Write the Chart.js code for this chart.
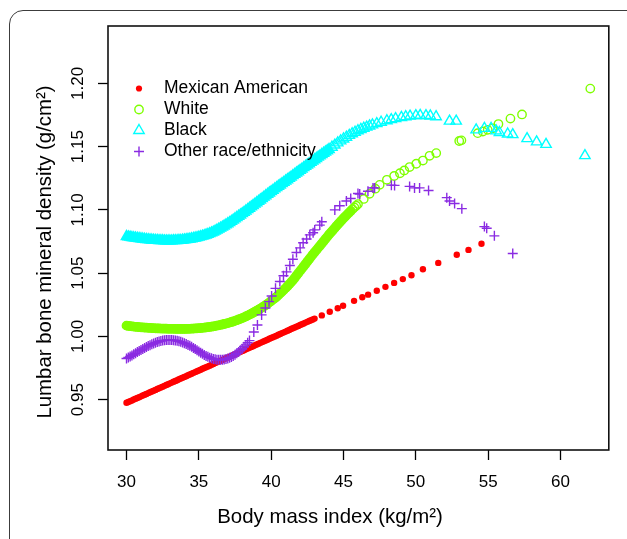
<!DOCTYPE html>
<html>
<head>
<meta charset="utf-8">
<title>Lumbar BMD by BMI</title>
<script src="https://cdn.jsdelivr.net/npm/chart.js@4.4.1/dist/chart.umd.min.js"></script>
<style>
  html, body { margin: 0; padding: 0; background: #fff; overflow: hidden; }
  .moldura { position: absolute; left: 9px; top: 10px; width: 700px; height: 620px;
             border: 1.5px solid #3c3c3c; border-radius: 14px; }
  #grafico { position: absolute; left: 0; top: 0; }
</style>
</head>
<body>
<div class="moldura"></div>
<canvas id="grafico" width="627" height="539"></canvas>
<script>
const xTicks = [30, 35, 40, 45, 50, 55, 60];
const yTicks = [0.95, 1.00, 1.05, 1.10, 1.15, 1.20];
const seriesNames = ['Mexican American', 'White', 'Black', 'Other race/ethnicity'];
const xTitle = 'Body mass index (kg/m²)';
const yTitle = 'Lumbar bone mineral density (g/cm²)';

// Mexican American
const mexicanBmi = [30, 30.125, 30.25, 30.375, 30.5, 30.625, 30.75, 30.875, 31, 31.125, 31.25, 31.375,
  31.5, 31.625, 31.75, 31.875, 32, 32.125, 32.25, 32.375, 32.5, 32.625, 32.75, 32.875,
  33, 33.125, 33.25, 33.375, 33.5, 33.625, 33.75, 33.875, 34, 34.125, 34.25, 34.375,
  34.5, 34.625, 34.75, 34.875, 35, 35.125, 35.25, 35.375, 35.5, 35.625, 35.75, 35.875,
  36, 36.125, 36.25, 36.375, 36.5, 36.625, 36.75, 36.875, 37, 37.125, 37.25, 37.375,
  37.5, 37.625, 37.75, 37.875, 38, 38.125, 38.25, 38.375, 38.5, 38.625, 38.75, 38.875,
  39, 39.125, 39.25, 39.375, 39.5, 39.625, 39.75, 39.875, 40, 40.125, 40.25, 40.375,
  40.5, 40.625, 40.75, 40.875, 41, 41.125, 41.25, 41.375, 41.5, 41.625, 41.75, 41.875,
  42, 42.125, 42.25, 42.375, 42.5, 42.625, 42.75, 42.875, 43,
  43.5, 44.05, 44.6, 44.97, 45.73, 46.3, 46.7, 47.3, 47.9, 48.5, 49.1, 49.7, 50.49, 51.55, 52.83, 53.64, 54.54];
const mexicanBmd = [0.9475, 0.9481, 0.9488, 0.9494, 0.9501, 0.9507, 0.9513, 0.9520, 0.9526, 0.9533, 0.9539, 0.9545,
  0.9552, 0.9558, 0.9565, 0.9571, 0.9577, 0.9584, 0.9590, 0.9597, 0.9603, 0.9609, 0.9616, 0.9622,
  0.9629, 0.9635, 0.9641, 0.9648, 0.9654, 0.9661, 0.9667, 0.9673, 0.9680, 0.9686, 0.9693, 0.9699,
  0.9705, 0.9712, 0.9718, 0.9725, 0.9731, 0.9737, 0.9744, 0.9750, 0.9757, 0.9763, 0.9769, 0.9776,
  0.9782, 0.9789, 0.9795, 0.9801, 0.9808, 0.9814, 0.9821, 0.9827, 0.9834, 0.9840, 0.9846, 0.9853,
  0.9859, 0.9866, 0.9872, 0.9878, 0.9885, 0.9891, 0.9898, 0.9904, 0.9910, 0.9917, 0.9923, 0.9930,
  0.9936, 0.9942, 0.9949, 0.9955, 0.9962, 0.9968, 0.9974, 0.9981, 0.9987, 0.9994, 1.0000, 1.0006,
  1.0013, 1.0019, 1.0026, 1.0032, 1.0038, 1.0045, 1.0051, 1.0058, 1.0064, 1.0070, 1.0077, 1.0083,
  1.0090, 1.0096, 1.0102, 1.0109, 1.0115, 1.0122, 1.0128, 1.0134, 1.0141,
  1.0166, 1.0195, 1.0223, 1.0242, 1.0281, 1.0310, 1.0330, 1.0361, 1.0392, 1.0423, 1.0453, 1.0484, 1.0531, 1.0581, 1.0646, 1.0684, 1.0732];

// White
const whiteBmi = [30, 30.125, 30.25, 30.375, 30.5, 30.625, 30.75, 30.875, 31, 31.125, 31.25, 31.375,
  31.5, 31.625, 31.75, 31.875, 32, 32.125, 32.25, 32.375, 32.5, 32.625, 32.75, 32.875,
  33, 33.125, 33.25, 33.375, 33.5, 33.625, 33.75, 33.875, 34, 34.125, 34.25, 34.375,
  34.5, 34.625, 34.75, 34.875, 35, 35.125, 35.25, 35.375, 35.5, 35.625, 35.75, 35.875,
  36, 36.125, 36.25, 36.375, 36.5, 36.625, 36.75, 36.875, 37, 37.125, 37.25, 37.375,
  37.5, 37.625, 37.75, 37.875, 38, 38.125, 38.25, 38.375, 38.5, 38.625, 38.75, 38.875,
  39, 39.125, 39.25, 39.375, 39.5, 39.625, 39.75, 39.875, 40, 40.125, 40.25, 40.375,
  40.5, 40.625, 40.75, 40.875, 41, 41.125, 41.25, 41.375, 41.5, 41.625, 41.75, 41.875,
  42, 42.125, 42.25, 42.375, 42.5, 42.625, 42.75, 42.875, 43, 43.125, 43.25, 43.375,
  43.5, 43.625, 43.75, 43.875, 44, 44.125, 44.25, 44.375, 44.5, 44.625, 44.75, 44.875,
  45, 45.125, 45.25, 45.375, 45.5, 45.625, 45.75, 45.875, 46,
  46.4, 46.8, 47.2, 47.5, 48.0, 48.5, 48.9, 49.2, 49.57, 50.03, 50.49, 50.95, 51.41,
  53.0, 53.15, 54.28, 54.63, 54.97, 55.32, 55.71, 56.54, 57.34, 62.06];
const whiteBmd = [1.0085, 1.0083, 1.0081, 1.0080, 1.0078, 1.0076, 1.0075, 1.0073, 1.0072, 1.0071, 1.0070, 1.0069,
  1.0068, 1.0067, 1.0066, 1.0065, 1.0064, 1.0063, 1.0063, 1.0062, 1.0062, 1.0061, 1.0061, 1.0060,
  1.0060, 1.0060, 1.0060, 1.0059, 1.0059, 1.0059, 1.0059, 1.0059, 1.0059, 1.0059, 1.0060, 1.0060,
  1.0061, 1.0062, 1.0063, 1.0064, 1.0065, 1.0066, 1.0068, 1.0069, 1.0071, 1.0073, 1.0075, 1.0077,
  1.0080, 1.0082, 1.0085, 1.0088, 1.0091, 1.0094, 1.0098, 1.0101, 1.0105, 1.0109, 1.0114, 1.0118,
  1.0123, 1.0128, 1.0134, 1.0139, 1.0145, 1.0151, 1.0158, 1.0165, 1.0172, 1.0179, 1.0187, 1.0195,
  1.0203, 1.0211, 1.0220, 1.0229, 1.0238, 1.0248, 1.0258, 1.0269, 1.0280, 1.0291, 1.0302, 1.0314,
  1.0327, 1.0340, 1.0354, 1.0368, 1.0382, 1.0397, 1.0412, 1.0428, 1.0444, 1.0462, 1.0481, 1.0499,
  1.0518, 1.0536, 1.0555, 1.0573, 1.0592, 1.0610, 1.0629, 1.0647, 1.0665, 1.0682, 1.0700, 1.0717,
  1.0735, 1.0752, 1.0770, 1.0787, 1.0805, 1.0821, 1.0838, 1.0854, 1.0871, 1.0887, 1.0903, 1.0918,
  1.0934, 1.0948, 1.0963, 1.0977, 1.0992, 1.1006, 1.1020, 1.1033, 1.1046,
  1.1087, 1.1128, 1.1168, 1.1198, 1.1238, 1.1268, 1.1290, 1.1312, 1.1339, 1.1365, 1.1390, 1.1428, 1.1449,
  1.1545, 1.1550, 1.1607, 1.1620, 1.1633, 1.1645, 1.1679, 1.1722, 1.1755, 1.1959];

// Black
const blackBmi = [30, 30.125, 30.25, 30.375, 30.5, 30.625, 30.75, 30.875, 31, 31.125, 31.25, 31.375,
  31.5, 31.625, 31.75, 31.875, 32, 32.125, 32.25, 32.375, 32.5, 32.625, 32.75, 32.875,
  33, 33.125, 33.25, 33.375, 33.5, 33.625, 33.75, 33.875, 34, 34.125, 34.25, 34.375,
  34.5, 34.625, 34.75, 34.875, 35, 35.125, 35.25, 35.375, 35.5, 35.625, 35.75, 35.875,
  36, 36.125, 36.25, 36.375, 36.5, 36.625, 36.75, 36.875, 37, 37.125, 37.25, 37.375,
  37.5, 37.625, 37.75, 37.875, 38, 38.125, 38.25, 38.375, 38.5, 38.625, 38.75, 38.875,
  39, 39.125, 39.25, 39.375, 39.5, 39.625, 39.75, 39.875, 40, 40.125, 40.25, 40.375,
  40.5, 40.625, 40.75, 40.875, 41, 41.125, 41.25, 41.375, 41.5, 41.625, 41.75, 41.875,
  42, 42.125, 42.25, 42.375, 42.5, 42.625, 42.75, 42.875, 43, 43.125, 43.25, 43.375,
  43.5, 43.625, 43.75, 43.875, 44,
  44.2, 44.4, 44.6, 44.8, 45.0, 45.2, 45.4, 45.6, 45.8, 46.0, 46.2, 46.4, 46.6, 46.8, 47.0,
  47.3, 47.6, 48.0, 48.3, 48.6, 49.0, 49.3, 49.6, 50.0, 50.3, 50.7, 51.0, 51.4,
  52.33, 52.79, 54.17, 54.74, 55.2, 55.55, 55.78, 56.35, 56.7, 57.69, 58.35, 59.0, 61.69];
const blackBmd = [1.0790, 1.0787, 1.0785, 1.0782, 1.0780, 1.0778, 1.0776, 1.0774, 1.0772, 1.0770, 1.0768, 1.0766,
  1.0765, 1.0763, 1.0762, 1.0761, 1.0760, 1.0759, 1.0758, 1.0757, 1.0757, 1.0756, 1.0756, 1.0756,
  1.0756, 1.0756, 1.0757, 1.0757, 1.0758, 1.0759, 1.0760, 1.0761, 1.0763, 1.0765, 1.0767, 1.0769,
  1.0772, 1.0775, 1.0778, 1.0781, 1.0785, 1.0789, 1.0793, 1.0797, 1.0802, 1.0807, 1.0813, 1.0819,
  1.0825, 1.0832, 1.0840, 1.0848, 1.0856, 1.0864, 1.0873, 1.0882, 1.0891, 1.0900, 1.0910, 1.0920,
  1.0930, 1.0940, 1.0950, 1.0960, 1.0971, 1.0981, 1.0992, 1.1002, 1.1013, 1.1024, 1.1035, 1.1046,
  1.1057, 1.1068, 1.1079, 1.1090, 1.1101, 1.1112, 1.1123, 1.1134, 1.1145, 1.1155, 1.1166, 1.1176,
  1.1187, 1.1197, 1.1208, 1.1218, 1.1229, 1.1239, 1.1250, 1.1260, 1.1271, 1.1281, 1.1292, 1.1302,
  1.1313, 1.1323, 1.1334, 1.1344, 1.1355, 1.1365, 1.1376, 1.1386, 1.1397, 1.1407, 1.1418, 1.1428,
  1.1438, 1.1448, 1.1458, 1.1468, 1.1478,
  1.1496, 1.1513, 1.1530, 1.1546, 1.1561, 1.1575, 1.1589, 1.1602, 1.1614, 1.1626, 1.1636, 1.1646, 1.1655, 1.1664, 1.1672,
  1.1683, 1.1693, 1.1705, 1.1714, 1.1722, 1.1731, 1.1737, 1.1742, 1.1746, 1.1747, 1.1746, 1.1743, 1.1737,
  1.1702, 1.1702, 1.1633, 1.1645, 1.1645, 1.1625, 1.1612, 1.1600, 1.1595, 1.1564, 1.1538, 1.1518, 1.1429];

// Other race/ethnicity
const otherBmi = [30, 30.125, 30.25, 30.375, 30.5, 30.625, 30.75, 30.875, 31, 31.125, 31.25, 31.375,
  31.5, 31.625, 31.75, 31.875, 32, 32.125, 32.25, 32.375, 32.5, 32.625, 32.75, 32.875,
  33, 33.125, 33.25, 33.375, 33.5, 33.625, 33.75, 33.875, 34, 34.125, 34.25, 34.375,
  34.5, 34.625, 34.75, 34.875, 35, 35.125, 35.25, 35.375, 35.5, 35.625, 35.75, 35.875,
  36, 36.125, 36.25, 36.375, 36.5, 36.625, 36.75, 36.875, 37, 37.125, 37.25, 37.375,
  37.5, 37.625, 37.75, 37.875, 38, 38.125, 38.25, 38.375, 38.5,
  38.8, 39.05, 39.34, 39.6, 39.85, 40.03, 40.3, 40.6, 40.85, 41.06, 41.29, 41.5, 41.75, 42.0, 42.21,
  42.45, 42.67, 42.9, 43.01, 43.36, 43.5, 44.4, 44.74, 45.2, 45.5, 46.0, 46.12, 46.69, 47.04, 47.15,
  48.31, 48.53, 49.57, 49.91, 50.26, 50.88, 52.14, 52.33, 52.68, 53.18, 54.74, 54.9, 55.43, 56.7];
const otherBmd = [0.9825, 0.9833, 0.9842, 0.9850, 0.9859, 0.9867, 0.9876, 0.9885, 0.9893, 0.9901, 0.9909, 0.9917,
  0.9924, 0.9931, 0.9938, 0.9944, 0.9950, 0.9955, 0.9960, 0.9964, 0.9967, 0.9969, 0.9971, 0.9972,
  0.9972, 0.9971, 0.9970, 0.9968, 0.9965, 0.9961, 0.9957, 0.9952, 0.9946, 0.9940, 0.9933, 0.9926,
  0.9918, 0.9909, 0.9900, 0.9890, 0.9880, 0.9871, 0.9862, 0.9854, 0.9846, 0.9839, 0.9832, 0.9827,
  0.9822, 0.9819, 0.9816, 0.9815, 0.9815, 0.9816, 0.9818, 0.9821, 0.9826, 0.9832, 0.9838, 0.9846,
  0.9855, 0.9866, 0.9877, 0.9890, 0.9903, 0.9918, 0.9933, 0.9950, 0.9967,
  1.0035, 1.0090, 1.0170, 1.0225, 1.0275, 1.0320, 1.0380, 1.0434, 1.0480, 1.0510, 1.0561, 1.0610, 1.0663, 1.0700, 1.0740,
  1.0770, 1.0803, 1.0820, 1.0842, 1.0880, 1.0906, 1.1000, 1.1033, 1.1071, 1.1090, 1.1130, 1.1125, 1.1148, 1.1174, 1.1174,
  1.1196, 1.1194, 1.1186, 1.1174, 1.1174, 1.1153, 1.1097, 1.1071, 1.1051, 1.1010, 1.0868, 1.0855, 1.0795, 1.0655];

const fonte = "'Liberation Sans', Arial, Helvetica, sans-serif";
const cores = ['#ff0000', '#7fff00', '#00ffff', '#8a2be2'];
const vazio = 'rgba(0,0,0,0)';

function pares(xs, ys) {
  return xs.map((x, i) => ({ x: x, y: ys[i] }));
}

// where the markers pile up so thick that the band reads as solid colour
function preenchido(cor, limite) {
  return c => (c.raw && c.raw.x <= limite) ? cor : vazio;
}

// symbols for the legend, same shapes as the points
function simbolo(ctx, tipo, cor, x, y) {
  ctx.save();
  ctx.strokeStyle = cor;
  ctx.fillStyle = cor;
  ctx.lineWidth = 1.4;
  ctx.beginPath();
  if (tipo === 'dot') {
    ctx.arc(x, y, 3.1, 0, Math.PI * 2);
    ctx.fill();
  } else if (tipo === 'ring') {
    ctx.arc(x, y, 4.2, 0, Math.PI * 2);
    ctx.stroke();
  } else if (tipo === 'tri') {
    const r = 6;
    ctx.moveTo(x, y - r);
    ctx.lineTo(x + r * 0.866, y + r / 2);
    ctx.lineTo(x - r * 0.866, y + r / 2);
    ctx.closePath();
    ctx.stroke();
  } else {
    ctx.moveTo(x - 5, y); ctx.lineTo(x + 5, y);
    ctx.moveTo(x, y - 5); ctx.lineTo(x, y + 5);
    ctx.stroke();
  }
  ctx.restore();
}

const estiloR = {
  id: 'estiloR',
  afterDraw(chart) {
    const ctx = chart.ctx;
    const area = chart.chartArea;
    const escalaY = chart.scales.y;
    ctx.save();

    // plot box
    ctx.strokeStyle = '#111';
    ctx.lineWidth = 1.6;
    ctx.strokeRect(area.left, area.top, area.right - area.left, area.bottom - area.top);

    ctx.fillStyle = '#000';
    ctx.textAlign = 'center';
    ctx.textBaseline = 'middle';

    // y tick labels, rotated as in R
    ctx.font = '17px ' + fonte;
    yTicks.forEach(v => {
      ctx.save();
      ctx.translate(78, escalaY.getPixelForValue(v));
      ctx.rotate(-Math.PI / 2);
      ctx.fillText(v.toFixed(2), 0, 0);
      ctx.restore();
    });

    // axis titles
    ctx.font = '20.4px ' + fonte;
    ctx.fillText(xTitle, 330, 517);
    ctx.save();
    ctx.translate(45, 252);
    ctx.rotate(-Math.PI / 2);
    ctx.fillText(yTitle, 0, 0);
    ctx.restore();

    // legend inside the plot
    const tipos = ['dot', 'ring', 'tri', 'plus'];
    ctx.font = '17.5px ' + fonte;
    ctx.textAlign = 'left';
    seriesNames.forEach((nome, i) => {
      const yy = 88.5 + i * 21;
      simbolo(ctx, tipos[i], cores[i], 139, yy);
      ctx.fillStyle = '#000';
      ctx.fillText(nome, 164, yy);
    });
    ctx.restore();
  }
};

document.addEventListener('DOMContentLoaded', function() {
  Chart.defaults.font.family = fonte;
  Chart.defaults.color = '#000';

  const ctx = document.getElementById('grafico').getContext('2d');
  new Chart(ctx, {
    type: 'scatter',
    data: {
      datasets: [
        { label: seriesNames[0], data: pares(mexicanBmi, mexicanBmd), order: 3,
          pointStyle: 'circle', pointRadius: 3.2, pointBorderWidth: 0,
          pointBackgroundColor: cores[0], pointBorderColor: cores[0] },
        { label: seriesNames[1], data: pares(whiteBmi, whiteBmd), order: 2,
          pointStyle: 'circle', pointRadius: 4.2, pointBorderWidth: 1.4,
          pointBackgroundColor: preenchido(cores[1], 45.5), pointBorderColor: cores[1] },
        { label: seriesNames[2], data: pares(blackBmi, blackBmd), order: 1,
          pointStyle: 'triangle', pointRadius: 6, pointBorderWidth: 1.4,
          pointBackgroundColor: preenchido(cores[2], 44), pointBorderColor: cores[2] },
        { label: seriesNames[3], data: pares(otherBmi, otherBmd), order: 0,
          pointStyle: 'cross', pointRadius: 5, pointBorderWidth: 1.4,
          pointBackgroundColor: cores[3], pointBorderColor: cores[3] }
      ]
    },
    options: {
      responsive: false,
      animation: false,
      events: [],
      layout: { padding: { top: 26, right: 18.2, left: 98, bottom: 34 } },
      plugins: {
        legend: { display: false },
        tooltip: { enabled: false }
      },
      scales: {
        x: {
          type: 'linear',
          min: 28.72,
          max: 63.34,
          afterBuildTicks: s => { s.ticks = xTicks.map(v => ({ value: v })); },
          border: { display: false },
          grid: { drawOnChartArea: false, drawTicks: true, tickLength: 10,
                  tickColor: '#000', tickWidth: 1.3 },
          ticks: { color: '#000', padding: 14, maxRotation: 0,
                   font: { size: 17, lineHeight: 1 } }
        },
        y: {
          type: 'linear',
          min: 0.9102,
          max: 1.2454,
          afterBuildTicks: s => { s.ticks = yTicks.map(v => ({ value: v })); },
          border: { display: false },
          grid: { drawOnChartArea: false, drawTicks: true, tickLength: 10,
                  tickColor: '#000', tickWidth: 1.3 },
          ticks: { display: false }
        }
      }
    },
    plugins: [estiloR]
  });
});
</script>
</body>
</html>
